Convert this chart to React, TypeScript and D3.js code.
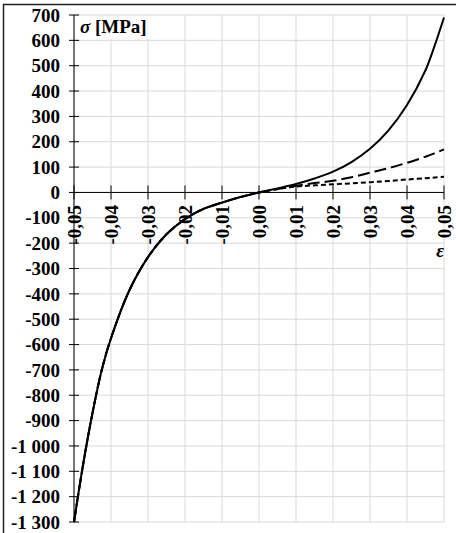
import React from 'react'
import * as d3 from 'd3'

// strain values (shared) and stresses
const strainNeg = [-0.05, -0.0475, -0.045, -0.0425, -0.04, -0.035, -0.03, -0.025, -0.02, -0.015, -0.01, -0.005, 0]
const stressNeg = [-1300, -1070, -870, -700, -575, -385, -255, -165, -105, -65, -40, -18, 0]

const strainPos = [0, 0.005, 0.01, 0.015, 0.02, 0.025, 0.03, 0.035, 0.04, 0.045, 0.0475, 0.05]
const solidPos = [0, 16, 33, 55, 82, 120, 172, 245, 345, 482, 580, 690]
const longDashPos = [0, 14, 26, 37, 46, 60, 78, 96, 117, 141, 155, 170]
const shortDashPos = [0, 13, 23, 28, 32, 36, 40, 45, 51, 56, 59, 62]

const xTicks = [-0.05, -0.04, -0.03, -0.02, -0.01, 0, 0.01, 0.02, 0.03, 0.04, 0.05]
const yTicks = d3.range(-1300, 701, 100)

const series = [
  { name: 'solid', values: solidPos, dash: null },
  { name: 'long', values: longDashPos, dash: '12,5' },
  { name: 'short', values: shortDashPos, dash: '5,3' },
]

const locale = d3.formatLocale({
  decimal: ',',
  thousands: ' ',
  grouping: [3],
  currency: ['', ''],
  minus: '-',
})
const fmtY = locale.format(',d')
const fmtX = locale.format('.2f')

const W = 456
const H = 533
const FONT = '"Liberation Serif", "Times New Roman", serif'
const FS = 19

export default function App() {
  const x = d3.scaleLinear().domain([-0.05, 0.05]).range([74, 444])
  const y = d3.scaleLinear().domain([-1300, 700]).range([522, 15])

  const line = d3.line<[number, number]>()
    .x(d => x(d[0]))
    .y(d => y(d[1]))
    .curve(d3.curveCatmullRom.alpha(0.5))

  const build = (vals: number[]) => {
    const pts: [number, number][] = strainNeg.map((s, i) => [s, stressNeg[i]])
    strainPos.forEach((s, i) => { if (i > 0) pts.push([s, vals[i]]) })
    return pts
  }

  const y0 = y(0)

  return (
    <svg width={W} height={H} style={{ position: 'absolute', left: 0, top: 0, background: '#fff' }}>
      <rect x={3.5} y={4.5} width={W + 10} height={H + 10} fill='#fff' stroke='#222' strokeWidth={1.5} />

      {/* grid */}
      <g stroke='#d9d9d9' strokeWidth={1}>
        {xTicks.map(t => (
          <line key={'gx' + t} x1={x(t)} x2={x(t)} y1={y(700)} y2={y(-1300)} />
        ))}
        {yTicks.map(t => (
          <line key={'gy' + t} x1={x(-0.05)} x2={x(0.05)} y1={y(t)} y2={y(t)} />
        ))}
      </g>

      {/* axes */}
      <g stroke='#000' strokeWidth={1}>
        <line x1={x(-0.05)} x2={x(-0.05)} y1={y(700)} y2={y(-1300)} />
        {yTicks.map(t => (
          <line key={'ty' + t} x1={x(-0.05) - 5} x2={x(-0.05) + 5} y1={y(t)} y2={y(t)} />
        ))}
        <line x1={x(-0.05)} x2={x(0.05)} y1={y0} y2={y0} />
        {xTicks.map(t => (
          <line key={'tx' + t} x1={x(t)} x2={x(t)} y1={y0 - 7} y2={y0 + 7} />
        ))}
      </g>

      <g fontFamily={FONT} fontSize={FS} fontWeight='bold' fill='#000'>
        {yTicks.map(t => (
          <text key={'ly' + t} x={60} y={y(t)} dy='0.35em' textAnchor='end'>{fmtY(t)}</text>
        ))}
        {xTicks.map(t => (
          <text key={'lx' + t} transform={`translate(${x(t)},205) rotate(-90)`} dy='0.35em' textAnchor='end'>
            {fmtX(t)}
          </text>
        ))}
      </g>

      {/* curves */}
      <g fill='none' stroke='#000' strokeWidth={2}>
        {series.map(s => (
          <path key={s.name} d={line(build(s.values)) || ''} strokeDasharray={s.dash || undefined} />
        ))}
      </g>

      {/* axis titles */}
      <rect x={76} y={16} width={74} height={23} fill='#fff' />
      <text x={80} y={33} fontFamily={FONT} fontSize={FS} fontWeight='bold'>
        <tspan fontStyle='italic'>σ</tspan> [MPa]
      </text>
      <text x={444} y={257} textAnchor='end' fontFamily={FONT} fontSize={FS} fontWeight='bold' fontStyle='italic'>ε</text>
    </svg>
  )
}
